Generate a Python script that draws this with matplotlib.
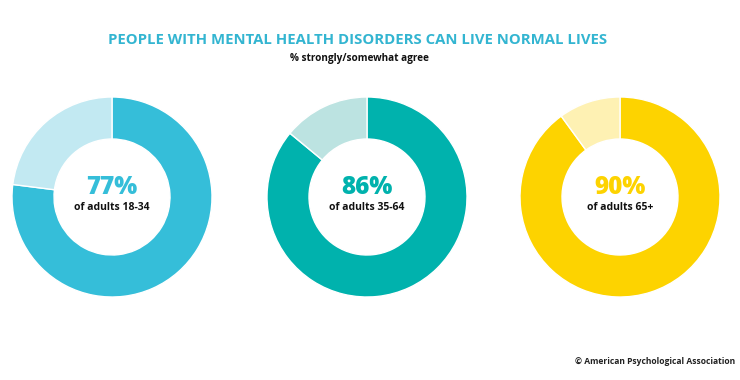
import matplotlib
matplotlib.use("Agg")
import matplotlib.pyplot as plt

title = "PEOPLE WITH MENTAL HEALTH DISORDERS CAN LIVE NORMAL LIVES"
subtitle = "% strongly/somewhat agree"
source = "© American Psychological Association"

groups = ["of adults 18-34", "of adults 35-64", "of adults 65+"]
agree = [77, 86, 90]
main_colors = ["#35BED9", "#00B2AD", "#FDD300"]
light_colors = ["#C2E9F2", "#BCE3E1", "#FEF1B3"]

W, H = 740, 380
fig = plt.figure(figsize=(W / 100, H / 100), dpi=100)
fig.patch.set_facecolor("white")

FONT = ["Open Sans", "DejaVu Sans"]

centers_x = [112, 367, 620]
cy = 197
R = 100

for i in range(3):
    cx = centers_x[i]
    ax = fig.add_axes([(cx - R) / W, (H - cy - R) / H, 2 * R / W, 2 * R / H])
    ax.pie([agree[i], 100 - agree[i]], colors=[main_colors[i], light_colors[i]],
           startangle=90, counterclock=False, radius=1.0,
           wedgeprops=dict(width=0.42, edgecolor="white", linewidth=1.0))
    ax.set_xlim(-1, 1)
    ax.set_ylim(-1, 1)
    ax.text(0, 0.10, f"{agree[i]}%", ha="center", va="center", fontsize=17.5,
            fontweight="heavy", color=main_colors[i], family=FONT)
    ax.text(0, -0.11, groups[i], ha="center", va="center", fontsize=7.5,
            fontweight="bold", color="#111111", family=FONT)

fig.text(358 / W, 1 - 39.5 / H, title, ha="center", va="center", fontsize=10.7,
         fontweight="bold", color="#33B5D1", family=FONT)
fig.text(359 / W, 1 - 58 / H, subtitle, ha="center", va="center", fontsize=7.2,
         fontweight="bold", color="#111111", family=FONT)
fig.text(735 / W, 1 - 361 / H, source, ha="right", va="center", fontsize=6.1,
         fontweight="bold", color="#222222", family=FONT)

fig.savefig("out.png", dpi=100, facecolor="white")
